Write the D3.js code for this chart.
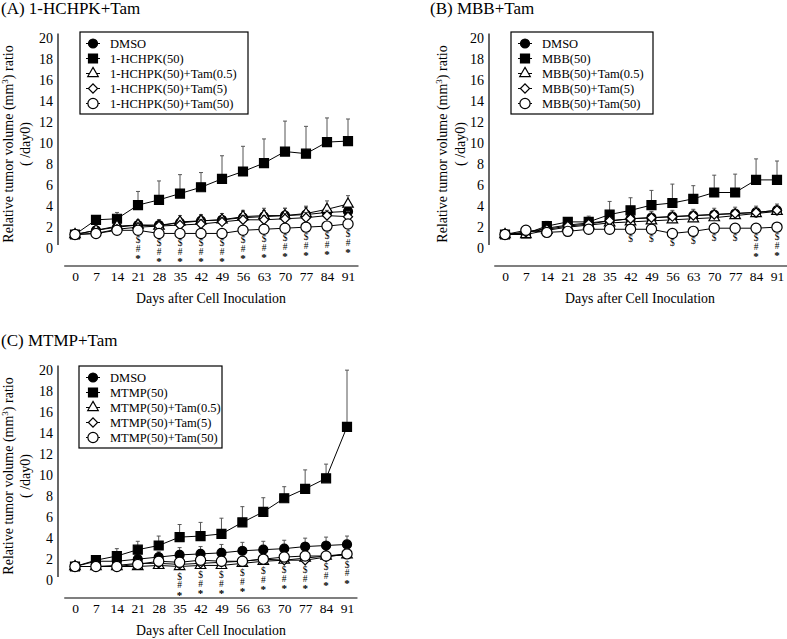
<!DOCTYPE html>
<html>
<head>
<meta charset="utf-8">
<script src="https://cdn.jsdelivr.net/npm/d3@7"></script>
<style>
  html, body { margin: 0; padding: 0; background: #fff; }
  svg { display: block; }
</style>
</head>
<body>
<svg id="chart" width="787" height="639"></svg>
<script>
// ---- data (relative tumor volume / day0) ----
const days = [0, 7, 14, 21, 28, 35, 42, 49, 56, 63, 70, 77, 84, 91];
const yTicks = [0, 2, 4, 6, 8, 10, 12, 14, 16, 18, 20];

// (A) 1-HCHPK
const hchpkNames = ['DMSO', '1-HCHPK(50)', '1-HCHPK(50)+Tam(0.5)', '1-HCHPK(50)+Tam(5)', '1-HCHPK(50)+Tam(50)'];
const hchpkDmso  = [1.0, 1.4, 1.7, 1.9, 1.9, 2.1, 2.3, 2.4, 2.6, 2.7, 2.8, 2.9, 3.1, 3.2];
const hchpkDrug  = [1.0, 2.4, 2.5, 3.8, 4.3, 4.9, 5.5, 6.3, 7.0, 7.8, 8.9, 8.7, 9.8, 9.9];
const hchpkTam05 = [1.0, 1.4, 1.8, 1.9, 1.8, 2.2, 2.3, 2.4, 2.7, 2.8, 2.8, 3.0, 3.4, 3.9];
const hchpkTam5  = [1.0, 1.1, 1.5, 1.7, 1.8, 1.9, 2.0, 2.2, 2.4, 2.4, 2.5, 2.6, 2.8, 2.7];
const hchpkTam50 = [1.0, 1.1, 1.4, 1.4, 1.1, 1.1, 1.1, 1.1, 1.4, 1.5, 1.6, 1.7, 1.8, 2.0];
const hchpkDmsoErr  = [0, 0.2, 0.3, 0.4, 0.5, 0.5, 0.5, 0.6, 0.6, 0.6, 0.7, 0.7, 0.7, 0.8];
const hchpkDrugErr  = [0, 0.4, 0.6, 1.3, 1.8, 1.8, 1.4, 2.2, 2.4, 2.3, 2.9, 2.6, 2.3, 2.1];
const hchpkTam05Err = [0, 0.2, 0.3, 0.5, 0.6, 0.6, 0.6, 0.6, 0.6, 0.7, 0.7, 0.7, 0.8, 0.8];
const hchpkTam5Err  = [0, 0.1, 0.2, 0.3, 0.3, 0.3, 0.4, 0.4, 0.4, 0.4, 0.5, 0.5, 0.5, 0.5];
const hchpkTam50Err = [0, 0.1, 0.2, 0.2, 0.2, 0.2, 0.2, 0.2, 0.3, 0.3, 0.3, 0.3, 0.3, 0.4];
const hchpkSig = ['', '', '', '$#*', '$#*', '$#*', '$#*', '$#*', '$#*', '$#*', '$#*', '$#*', '$#*', '$#*'];

// (B) MBB
const mbbNames = ['DMSO', 'MBB(50)', 'MBB(50)+Tam(0.5)', 'MBB(50)+Tam(5)', 'MBB(50)+Tam(50)'];
const mbbDmso  = [1.0, 1.2, 1.6, 1.9, 2.1, 2.3, 2.5, 2.6, 2.7, 2.8, 2.9, 3.0, 3.1, 3.3];
const mbbDrug  = [1.0, 1.1, 1.8, 2.2, 2.2, 2.9, 3.3, 3.8, 4.0, 4.4, 5.0, 5.0, 6.2, 6.2];
const mbbTam05 = [1.0, 1.0, 1.4, 1.7, 1.9, 2.1, 2.2, 2.3, 2.4, 2.5, 2.6, 2.8, 3.0, 3.2];
const mbbTam5  = [1.0, 1.2, 1.5, 1.8, 2.0, 2.3, 2.5, 2.6, 2.7, 2.8, 2.9, 3.0, 3.1, 3.3];
const mbbTam50 = [1.0, 1.4, 1.2, 1.3, 1.5, 1.5, 1.5, 1.5, 1.1, 1.3, 1.6, 1.6, 1.6, 1.7];
const mbbDmsoErr  = [0, 0.2, 0.4, 0.4, 0.5, 0.5, 0.6, 0.6, 0.6, 0.6, 0.6, 0.6, 0.6, 0.6];
const mbbDrugErr  = [0, 0.1, 0.45, 0.4, 0.55, 1.25, 1.2, 1.4, 1.8, 1.25, 1.65, 1.75, 2.0, 1.8];
const mbbTam05Err = [0, 0.1, 0.2, 0.3, 0.3, 0.4, 0.4, 0.4, 0.4, 0.4, 0.5, 0.5, 0.5, 0.5];
const mbbTam5Err  = [0, 0.1, 0.2, 0.3, 0.3, 0.3, 0.3, 0.4, 0.4, 0.4, 0.4, 0.4, 0.4, 0.4];
const mbbTam50Err = [0, 0.1, 0.1, 0.2, 0.2, 0.2, 0.2, 0.2, 0.2, 0.2, 0.2, 0.2, 0.2, 0.2];
const mbbSig = ['', '', '', '', '', '', '$', '$', '$', '$', '$', '$', '$#*', '$#*'];

// (C) MTMP
const mtmpNames = ['DMSO', 'MTMP(50)', 'MTMP(50)+Tam(0.5)', 'MTMP(50)+Tam(5)', 'MTMP(50)+Tam(50)'];
const mtmpDmso  = [1.0, 1.5, 1.5, 1.7, 1.9, 2.1, 2.2, 2.3, 2.5, 2.6, 2.7, 2.9, 3.0, 3.1];
const mtmpDrug  = [1.0, 1.6, 2.0, 2.6, 3.0, 3.8, 3.9, 4.1, 5.2, 6.2, 7.5, 8.4, 9.4, 14.3];
const mtmpTam05 = [1.0, 1.0, 1.0, 1.0, 1.1, 1.0, 1.1, 1.1, 1.3, 1.5, 1.6, 1.8, 2.0, 2.1];
const mtmpTam5  = [1.0, 1.0, 1.1, 1.3, 1.3, 1.2, 1.3, 1.4, 1.5, 1.7, 1.6, 1.6, 1.9, 2.2];
const mtmpTam50 = [1.0, 1.0, 1.0, 1.2, 1.5, 1.4, 1.6, 1.5, 1.5, 1.7, 1.9, 2.0, 2.0, 2.2];
const mtmpDmsoErr  = [0, 0.2, 0.3, 0.4, 0.5, 0.7, 0.7, 0.8, 0.8, 0.8, 0.8, 0.8, 0.8, 0.8];
const mtmpDrugErr  = [0, 0.2, 0.7, 0.8, 0.9, 1.2, 1.3, 1.5, 1.5, 1.35, 1.1, 1.8, 1.35, 5.4];
const mtmpTam05Err = [0, 0.1, 0.1, 0.1, 0.2, 0.2, 0.2, 0.2, 0.2, 0.2, 0.2, 0.2, 0.3, 0.3];
const mtmpTam5Err  = [0, 0.1, 0.1, 0.2, 0.2, 0.2, 0.2, 0.2, 0.2, 0.2, 0.2, 0.2, 0.3, 0.3];
const mtmpTam50Err = [0, 0.1, 0.1, 0.2, 0.2, 0.2, 0.2, 0.2, 0.2, 0.2, 0.3, 0.3, 0.3, 0.3];
const mtmpSig = ['', '', '', '', '', '$#*', '$#*', '$#*', '$#*', '$#*', '$#*', '$#*', '$#*', '$#*'];

// ---- styling ----
const FONT = '"Liberation Serif", "Times New Roman", Times, serif';
const MARKERS = [
  { type: d3.symbolCircle,   size: 64, fill: '#000', rot: 0 },
  { type: d3.symbolSquare,   size: 81, fill: '#000', rot: 0 },
  { type: d3.symbolTriangle, size: 48, fill: '#fff', rot: 0 },
  { type: d3.symbolSquare,   size: 42, fill: '#fff', rot: 45 },
  { type: d3.symbolCircle,   size: 82, fill: '#fff', rot: 0 }
];

const svg = d3.select('#chart');

function drawPanel(cfg) {
  const g = svg.append('g');
  const x = d3.scaleLinear().domain([0, 91]).range(cfg.xRange);
  const y = d3.scaleLinear().domain([-2, 20]).range([266 + cfg.oy, 35 + cfg.oy]);

  // title
  g.append('text')
    .attr('x', cfg.titleX).attr('y', 14 + cfg.oy)
    .attr('font-family', FONT).attr('font-size', 17)
    .text(cfg.title);

  // y axis (labels from d3 axis, line only from 0 to 20)
  const yAxis = g.append('g')
    .attr('transform', `translate(${cfg.axisX},3.5)`)
    .call(d3.axisLeft(y).tickValues(yTicks).tickSize(0).tickPadding(cfg.axisX - cfg.tickLabelX));
  yAxis.select('.domain').remove();
  yAxis.selectAll('text').attr('font-family', FONT).attr('font-size', 14).attr('fill', '#000');
  g.append('line')
    .attr('x1', cfg.axisX).attr('x2', cfg.axisX)
    .attr('y1', y(0)).attr('y2', y(20) - 1.5)
    .attr('stroke', '#000').attr('stroke-width', 1.2);

  // x axis
  const xAxis = g.append('g')
    .attr('transform', `translate(0,${y(-2)})`)
    .call(d3.axisBottom(x).tickValues(days).tickSize(0).tickPadding(5));
  xAxis.select('.domain').remove();
  xAxis.selectAll('text').attr('font-family', FONT).attr('font-size', 13.5).attr('fill', '#000');
  g.append('line')
    .attr('x1', x(-3.6)).attr('x2', x(94.5))
    .attr('y1', y(-2)).attr('y2', y(-2))
    .attr('stroke', '#000').attr('stroke-width', 1.2);

  g.append('text')
    .attr('x', cfg.xTitleX).attr('y', 303 + cfg.oy)
    .attr('text-anchor', 'middle')
    .attr('font-family', FONT).attr('font-size', 13.8)
    .text('Days after Cell Inoculation');

  // y title, two lines
  const yt = g.append('text')
    .attr('transform', `translate(${cfg.yTitleX[0]},${144 + cfg.oy}) rotate(-90)`)
    .attr('text-anchor', 'middle')
    .attr('font-family', FONT).attr('font-size', 14);
  yt.append('tspan').text('Relative tumor volume (mm');
  yt.append('tspan').attr('dy', -5).attr('font-size', 9).text('3');
  yt.append('tspan').attr('dy', 5).text(') ratio');
  g.append('text')
    .attr('transform', `translate(${cfg.yTitleX[1]},${144 + cfg.oy}) rotate(-90)`)
    .attr('text-anchor', 'middle')
    .attr('font-family', FONT).attr('font-size', 14)
    .text('( /day0)');

  const line = d3.line().x((d, i) => x(days[i])).y(d => y(d));
  const sym = (m) => d3.symbol().type(m.type).size(m.size);

  cfg.series.forEach((vals, s) => {
    const errs = cfg.errors[s];
    const m = MARKERS[s];
    const sg = g.append('g');
    // upper error bars
    sg.selectAll('g.err').data(vals).join('g').each(function (v, i) {
      if (!errs[i]) return;
      const e = d3.select(this);
      const cx = x(days[i]);
      e.append('line').attr('x1', cx).attr('x2', cx)
        .attr('y1', y(v)).attr('y2', y(v + errs[i]))
        .attr('stroke', '#555').attr('stroke-width', 1);
      e.append('line').attr('x1', cx - 2).attr('x2', cx + 2)
        .attr('y1', y(v + errs[i])).attr('y2', y(v + errs[i]))
        .attr('stroke', '#555').attr('stroke-width', 1);
    });
    sg.append('path').datum(vals)
      .attr('d', line).attr('fill', 'none')
      .attr('stroke', '#000').attr('stroke-width', 1);
    sg.selectAll('path.mk').data(vals).join('path')
      .attr('class', 'mk')
      .attr('d', sym(m))
      .attr('transform', (v, i) => `translate(${x(days[i])},${y(v)}) rotate(${m.rot})`)
      .attr('fill', m.fill).attr('stroke', '#000').attr('stroke-width', 1.2);
  });

  // significance marks below the lowest point of each day
  cfg.sig.forEach((marks, i) => {
    if (!marks) return;
    const low = d3.min(cfg.series, s => s[i]);
    const base = y(low);
    const cx = x(days[i]);
    const offs = { '$': 13, '#': 21.5, '*': 32 };
    marks.split('').forEach(ch => {
      g.append('text')
        .attr('x', cx).attr('y', base + offs[ch])
        .attr('text-anchor', 'middle')
        .attr('font-family', FONT).attr('font-size', ch === '*' ? 11 : 9.5)
        .attr('font-weight', ch === '*' ? 'bold' : 'normal')
        .text(ch);
    });
  });

  // legend
  const lg = g.append('g');
  const [bx, by, bw, bh] = cfg.legendBox;
  lg.append('rect').attr('x', bx).attr('y', by).attr('width', bw).attr('height', bh)
    .attr('fill', '#fff').attr('stroke', '#000').attr('stroke-width', 1.2);
  cfg.names.forEach((name, s) => {
    const ry = by + 11.5 + s * 15;
    const m = MARKERS[s];
    lg.append('line').attr('x1', cfg.legendMarkX - 7).attr('x2', cfg.legendMarkX + 7)
      .attr('y1', ry).attr('y2', ry).attr('stroke', '#000').attr('stroke-width', 1);
    lg.append('path').attr('d', sym(m))
      .attr('transform', `translate(${cfg.legendMarkX},${ry}) rotate(${m.rot})`)
      .attr('fill', m.fill).attr('stroke', '#000').attr('stroke-width', 1.2);
    lg.append('text').attr('x', cfg.legendMarkX + 17).attr('y', ry + 4.5)
      .attr('font-family', FONT).attr('font-size', 12.5)
      .text(name);
  });
}

drawPanel({
  title: '(A) 1-HCHPK+Tam', titleX: 1, oy: 0,
  xRange: [75, 348], axisX: 58, tickLabelX: 53, xTitleX: 211, yTitleX: [13, 30],
  legendBox: [80, 32, 168, 82], legendMarkX: 93,
  names: hchpkNames,
  series: [hchpkDmso, hchpkDrug, hchpkTam05, hchpkTam5, hchpkTam50],
  errors: [hchpkDmsoErr, hchpkDrugErr, hchpkTam05Err, hchpkTam5Err, hchpkTam50Err],
  sig: hchpkSig
});

drawPanel({
  title: '(B) MBB+Tam', titleX: 430, oy: 0,
  xRange: [505, 777], axisX: 489, tickLabelX: 484, xTitleX: 640, yTitleX: [447, 465],
  legendBox: [511, 32, 142, 82], legendMarkX: 525,
  names: mbbNames,
  series: [mbbDmso, mbbDrug, mbbTam05, mbbTam5, mbbTam50],
  errors: [mbbDmsoErr, mbbDrugErr, mbbTam05Err, mbbTam5Err, mbbTam50Err],
  sig: mbbSig
});

drawPanel({
  title: '(C) MTMP+Tam', titleX: 1, oy: 332,
  xRange: [75, 347], axisX: 58, tickLabelX: 53, xTitleX: 211, yTitleX: [13, 30],
  legendBox: [79, 366, 143, 82], legendMarkX: 93,
  names: mtmpNames,
  series: [mtmpDmso, mtmpDrug, mtmpTam05, mtmpTam5, mtmpTam50],
  errors: [mtmpDmsoErr, mtmpDrugErr, mtmpTam05Err, mtmpTam5Err, mtmpTam50Err],
  sig: mtmpSig
});
</script>
</body>
</html>
